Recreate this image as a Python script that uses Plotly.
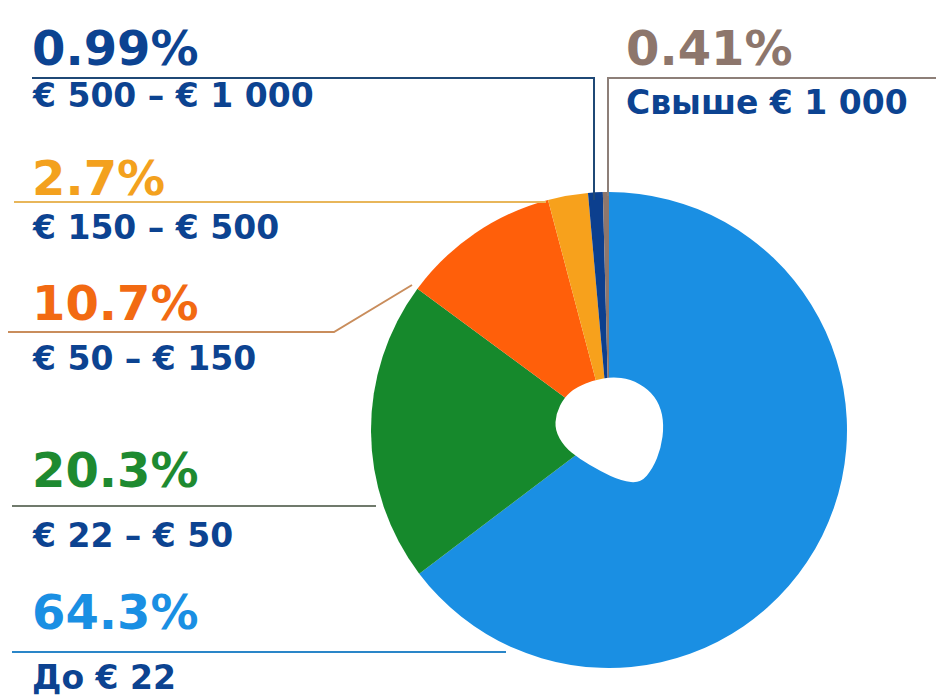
import plotly.graph_objects as go

W, H = 936, 697

categories = ["До € 22", "€ 22 – € 50", "€ 50 – € 150", "€ 150 – € 500", "€ 500 – € 1 000", "Свыше € 1 000"]
shares = [64.3, 20.3, 10.7, 2.7, 0.99, 0.41]
pct_labels = ["64.3%", "20.3%", "10.7%", "2.7%", "0.99%", "0.41%"]
colors = ["#1a8fe3", "#16892c", "#ff5f0a", "#f7a11c", "#0c3f8e", "#8d766c"]
text_colors = ["#1a8fe3", "#1e8a30", "#f26a12", "#f3a11e", "#0c4391", "#8d766c"]
line_colors = ["#2a86c8", "#707a6c", "#c98d5c", "#e8b65a", "#1f4876", "#8d7f78"]
label_color = "#0c4391"


def px(x):
    return x / W


def py(y):
    return 1 - y / H


fig = go.Figure()
fig.add_trace(go.Pie(
    labels=categories,
    values=shares,
    sort=False,
    direction="clockwise",
    rotation=0,
    marker=dict(colors=colors, line=dict(width=0)),
    textinfo="none",
    hoverinfo="label+percent",
    showlegend=False,
    domain=dict(x=[px(365), px(853)], y=[py(668), py(192)]),
))

left_layout = {
    4: (48, 96),
    3: (178, 227),
    2: (303, 358),
    1: (470, 535),
    0: (612, 677),
}
annotations = []
for i, (yp, yl) in left_layout.items():
    annotations.append(dict(x=px(30), y=py(yp), xref="paper", yref="paper", text=pct_labels[i],
                            showarrow=False, xanchor="left", yanchor="middle",
                            font=dict(family="DejaVu Sans", size=48, color=text_colors[i], weight="bold")))
    annotations.append(dict(x=px(30), y=py(yl), xref="paper", yref="paper", text=categories[i],
                            showarrow=False, xanchor="left", yanchor="middle",
                            font=dict(family="DejaVu Sans", size=33, color=label_color, weight="bold")))
annotations.append(dict(x=px(624), y=py(48), xref="paper", yref="paper", text=pct_labels[5],
                        showarrow=False, xanchor="left", yanchor="middle",
                        font=dict(family="DejaVu Sans", size=48, color=text_colors[5], weight="bold")))
annotations.append(dict(x=px(624), y=py(102), xref="paper", yref="paper", text=categories[5],
                        showarrow=False, xanchor="left", yanchor="middle",
                        font=dict(family="DejaVu Sans", size=33, color=label_color, weight="bold")))

shapes = []


def seg(pts, color):
    d = "M " + " L ".join(f"{px(x)},{py(y)}" for x, y in pts)
    shapes.append(dict(type="path", path=d, xref="paper", yref="paper",
                   line=dict(color=color, width=2)))


seg([(32, 78), (594, 78), (594, 200)], line_colors[4])
seg([(936, 78), (608, 78), (608, 196)], line_colors[5])
seg([(14, 202), (546, 202)], line_colors[3])
seg([(8, 332), (334, 332), (412, 285)], line_colors[2])
seg([(12, 506), (376, 506)], line_colors[1])
seg([(12, 652), (506, 652)], line_colors[0])

# rounded-triangle hole (smoothed outline)
hole_pts = [(577, 388), (595, 381), (612, 378), (630, 380), (648, 390), (659, 405), (663, 425),
            (660, 448), (652, 468), (640, 482), (622, 480), (600, 470), (580, 458), (565, 446),
            (556, 430), (557, 414), (565, 398)]
n = len(hole_pts)


def mid(a, b):
    return ((a[0] + b[0]) / 2, (a[1] + b[1]) / 2)


m0 = mid(hole_pts[0], hole_pts[1])
d = f"M {px(m0[0])},{py(m0[1])}"
for k in range(1, n + 1):
    p = hole_pts[k % n]
    m = mid(p, hole_pts[(k + 1) % n])
    d += f" Q {px(p[0])},{py(p[1])} {px(m[0])},{py(m[1])}"
d += " Z"
shapes.append(dict(type="path", path=d, xref="paper", yref="paper",
                   fillcolor="white", line=dict(color="white", width=2)))

fig.update_layout(
    width=W, height=H,
    margin=dict(l=0, r=0, t=0, b=0),
    paper_bgcolor="white",
    plot_bgcolor="white",
    annotations=annotations,
    shapes=shapes,
)

fig.write_html("out.html", config={"displayModeBar": False},
               post_script="document.body.style.margin='0';")
